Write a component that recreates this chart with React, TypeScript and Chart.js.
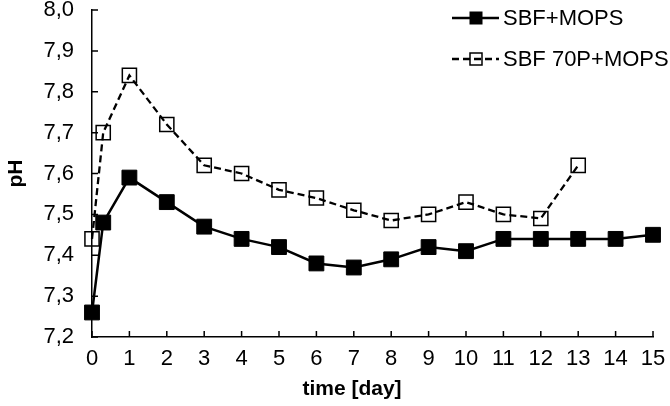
import React, { useEffect, useRef } from "react";
import { Chart, registerables } from "chart.js";

Chart.register(...registerables);

const days1 = [0, 0.3, 1, 2, 3, 4, 5, 6, 7, 8, 9, 10, 11, 12, 13, 14, 15];
const ph1 = [7.26, 7.48, 7.59, 7.53, 7.47, 7.44, 7.42, 7.38, 7.37, 7.39, 7.42, 7.41, 7.44, 7.44, 7.44, 7.44, 7.45];
const days2 = [0, 0.3, 1, 2, 3, 4, 5, 6, 7, 8, 9, 10, 11, 12, 13];
const ph2 = [7.44, 7.70, 7.84, 7.72, 7.62, 7.60, 7.56, 7.54, 7.51, 7.485, 7.50, 7.53, 7.50, 7.49, 7.62];
const seriesNames = ["SBF+MOPS", "SBF 70P+MOPS"];
const xTitle = "time [day]";
const yTitle = "pH";

const FONT = "'Liberation Sans', Arial, sans-serif";

const customPlugin = {
  id: "custom",
  afterDraw(chart: any) {
    const ctx = chart.ctx;
    const xs = chart.scales.x;
    const ys = chart.scales.y;
    const area = chart.chartArea;
    ctx.save();
    ctx.strokeStyle = "#000";
    ctx.lineWidth = 1.5;
    ctx.beginPath();
    xs.ticks.forEach((t: any) => {
      const px = xs.getPixelForValue(t.value);
      ctx.moveTo(px, area.bottom);
      ctx.lineTo(px, area.bottom - 6);
    });
    ys.ticks.forEach((t: any) => {
      const py = ys.getPixelForValue(t.value);
      ctx.moveTo(area.left, py);
      ctx.lineTo(area.left + 6, py);
    });
    ctx.stroke();

    ctx.fillStyle = "#000";
    ctx.font = `bold 21px ${FONT}`;
    ctx.textAlign = "center";
    ctx.textBaseline = "middle";
    ctx.fillText(xTitle, 352, 389);
    ctx.save();
    ctx.translate(16, (area.top + area.bottom) / 2);
    ctx.rotate(-Math.PI / 2);
    ctx.fillText(yTitle, 0, 0);
    ctx.restore();

    const rows = [18, 59];
    const x0 = 452, x1 = 499, mx = 476;
    ctx.font = `22px ${FONT}`;
    ctx.textAlign = "left";
    rows.forEach((ry, i) => {
      ctx.beginPath();
      ctx.lineWidth = 2.5;
      ctx.setLineDash(i === 0 ? [] : [7, 4]);
      ctx.moveTo(x0, ry);
      ctx.lineTo(x1, ry);
      ctx.stroke();
      ctx.setLineDash([]);
      if (i === 0) {
        ctx.fillRect(mx - 6.5, ry - 6.5, 13, 13);
      } else {
        ctx.lineWidth = 1.5;
        ctx.strokeRect(mx - 6, ry - 6, 12, 12);
      }
      ctx.fillText(seriesNames[i], 503, ry + 1);
    });
    ctx.restore();
  },
};

export default function App() {
  const ref = useRef<HTMLCanvasElement>(null);
  useEffect(() => {
    document.body.style.margin = "0";
    const chart = new Chart(ref.current!, {
      type: "line",
      data: {
        datasets: [
          {
            label: seriesNames[0],
            data: days1.map((d, i) => ({ x: d, y: ph1[i] })),
            borderColor: "#000",
            backgroundColor: "#000",
            borderWidth: 2.5,
            pointStyle: "rect",
            pointRadius: 10.5,
            pointBorderWidth: 1,
            pointBackgroundColor: "#000",
            pointBorderColor: "#000",
            tension: 0,
            clip: false,
          },
          {
            label: seriesNames[1],
            data: days2.map((d, i) => ({ x: d, y: ph2[i] })),
            borderColor: "#000",
            backgroundColor: "rgba(0,0,0,0)",
            borderWidth: 2.3,
            borderDash: [7, 4],
            pointStyle: "rect",
            pointRadius: 10,
            pointBorderWidth: 1.5,
            pointBackgroundColor: "rgba(0,0,0,0)",
            pointBorderColor: "#000",
            tension: 0,
            clip: false,
          },
        ],
      },
      options: {
        responsive: false,
        animation: false,
        events: [],
        layout: { autoPadding: false, padding: { left: 0, right: 17, top: 10, bottom: 0 } },
        plugins: { legend: { display: false }, tooltip: { enabled: false } },
        scales: {
          x: {
            type: "linear",
            min: 0,
            max: 15,
            grid: { display: false, drawTicks: false },
            border: { display: true, color: "#000", width: 1.5 },
            ticks: {
              stepSize: 1,
              padding: 9,
              color: "#000",
              font: { family: FONT, size: 22 },
              maxRotation: 0,
            },
            afterFit(scale: any) {
              scale.height = 69;
              scale.paddingLeft = 0;
              scale.paddingRight = 0;
            },
          },
          y: {
            type: "linear",
            min: 7.2,
            max: 8.0,
            grid: { display: false, drawTicks: false },
            border: { display: true, color: "#000", width: 1.5 },
            ticks: {
              stepSize: 0.1,
              padding: 18,
              color: "#000",
              font: { family: FONT, size: 22 },
              callback: (v: any) => Number(v).toFixed(1).replace(".", ","),
            },
            afterFit(scale: any) {
              scale.width = 92;
              scale.paddingTop = 0;
              scale.paddingBottom = 0;
            },
          },
        },
      },
      plugins: [customPlugin],
    });
    return () => chart.destroy();
  }, []);
  return (
    <div style={{ width: 670, height: 406, background: "#fff" }}>
      <canvas ref={ref} width={670} height={406} />
    </div>
  );
}
